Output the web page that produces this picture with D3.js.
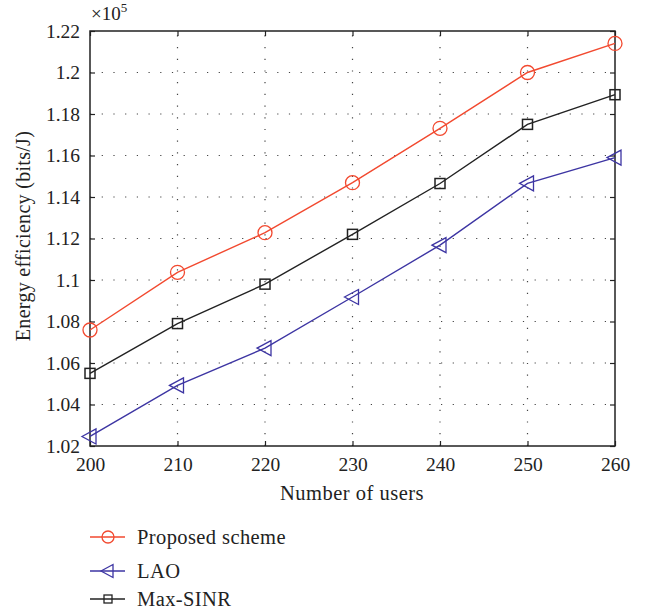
<!DOCTYPE html>
<html><head><meta charset="utf-8">
<script src="https://cdn.jsdelivr.net/npm/d3@7"></script>
<style>body{margin:0;background:#fff}svg{display:block}text{font-family:"Liberation Serif","DejaVu Serif",serif;fill:#222}</style>
</head><body><svg id="c" width="647" height="611"></svg>
<script>
const users = [200, 210, 220, 230, 240, 250, 260];
const proposed = [1.0759, 1.1037, 1.1228, 1.1469, 1.1731, 1.2000, 1.2140];
const lao = [1.0246, 1.0492, 1.0672, 1.0918, 1.1168, 1.1466, 1.1590];
const maxSinr = [1.0550, 1.0790, 1.0980, 1.1220, 1.1465, 1.1750, 1.1893];
const yTicks = [1.02, 1.04, 1.06, 1.08, 1.1, 1.12, 1.14, 1.16, 1.18, 1.2, 1.22];
const xTicks = [200, 210, 220, 230, 240, 250, 260];
const seriesNames = ["Proposed scheme", "LAO", "Max-SINR"];

const svg = d3.select("#c");
const L = 90, R = 615, T = 31, B = 446;
const x = d3.scaleLinear().domain([200, 260]).range([L, R]);
const y = d3.scaleLinear().domain([1.02, 1.22]).range([B, T]);

// grid
const g = svg.append("g");
g.selectAll(".gx").data(xTicks.slice(1, -1)).enter().append("line")
  .attr("x1", d => x(d)).attr("x2", d => x(d)).attr("y1", B).attr("y2", T)
  .attr("stroke", "#444").attr("stroke-width", 1.2).attr("stroke-dasharray", "1.2,10.5");
g.selectAll(".gy").data(yTicks.slice(1, -1)).enter().append("line")
  .attr("x1", L).attr("x2", R).attr("y1", d => y(d)).attr("y2", d => y(d))
  .attr("stroke", "#444").attr("stroke-width", 1.2).attr("stroke-dasharray", "1.2,10.5");

// axes
const xAxB = d3.axisBottom(x).tickValues(xTicks).tickSize(-5).tickPadding(11).tickFormat(d3.format("d"));
const xAxT = d3.axisTop(x).tickValues(xTicks).tickSize(-5).tickFormat("");
const yAxL = d3.axisLeft(y).tickValues(yTicks).tickSize(-5).tickPadding(10).tickFormat(d => String(+d.toFixed(2)));
const yAxR = d3.axisRight(y).tickValues(yTicks).tickSize(-5).tickFormat("");
function style(sel) {
  sel.select(".domain").remove();
  sel.selectAll("line").attr("stroke", "#222").attr("stroke-width", 1.2);
  sel.selectAll("text").attr("font-size", 19.5).attr("fill", "#222")
    .attr("font-family", '"Liberation Serif","DejaVu Serif",serif');
}
svg.append("g").attr("transform", `translate(0,${B})`).call(xAxB).call(style);
svg.append("g").attr("transform", `translate(0,${T})`).call(xAxT).call(style);
svg.append("g").attr("transform", `translate(${L},0)`).call(yAxL).call(style);
svg.append("g").attr("transform", `translate(${R},0)`).call(yAxR).call(style);
svg.append("rect").attr("x", L).attr("y", T).attr("width", R - L).attr("height", B - T)
  .attr("fill", "none").attr("stroke", "#222").attr("stroke-width", 1.5);

// labels
svg.append("text").attr("x", 352).attr("y", 500).attr("text-anchor", "middle").attr("font-size", 20.5).attr("letter-spacing", 0.5).text("Number of users");
svg.append("text").attr("transform", "translate(30,236) rotate(-90)").attr("text-anchor", "middle").attr("font-size", 20).attr("letter-spacing", 0.3).text("Energy efficiency (bits/J)");
const ex = svg.append("text").attr("x", 91).attr("y", 20).attr("font-size", 19);
ex.append("tspan").text("×10");
ex.append("tspan").attr("font-size", 13).attr("dy", -8).text("5");

// series
const colors = ["#f2492f", "#3d35a3", "#222222"];
const data = [proposed, lao, maxSinr];
const line = d3.line().x((d, i) => x(users[i])).y(d => y(d));

function marker(sel, k, cx, cy) {
  if (k === 0) sel.append("circle").attr("cx", cx).attr("cy", cy).attr("r", 7)
    .attr("fill", "none").attr("stroke", colors[k]).attr("stroke-width", 1.3);
  else if (k === 1) sel.append("path").attr("d", `M${cx - 8},${cy} L${cx + 6},${cy - 7.5} L${cx + 6},${cy + 7.5} Z`)
    .attr("fill", "none").attr("stroke", colors[k]).attr("stroke-width", 1.3);
  else sel.append("rect").attr("x", cx - 5).attr("y", cy - 5).attr("width", 10).attr("height", 10)
    .attr("fill", "none").attr("stroke", colors[k]).attr("stroke-width", 1.5);
}
data.forEach((vals, k) => {
  const sg = svg.append("g");
  sg.append("path").attr("d", line(vals)).attr("fill", "none").attr("stroke", colors[k]).attr("stroke-width", 1.4);
  vals.forEach((v, i) => marker(sg, k, x(users[i]), y(v)));
});

// legend
const legY = [537, 571, 599];
seriesNames.forEach((name, k) => {
  const lg = svg.append("g");
  lg.append("line").attr("x1", 90).attr("x2", 125).attr("y1", legY[k]).attr("y2", legY[k])
    .attr("stroke", colors[k]).attr("stroke-width", 1.4);
  if (k === 0) lg.append("circle").attr("cx", 108).attr("cy", legY[k]).attr("r", 6).attr("fill", "none").attr("stroke", colors[k]).attr("stroke-width", 1.3);
  else if (k === 1) lg.append("path").attr("d", `M${101},${legY[k]} L${113},${legY[k] - 6.5} L${113},${legY[k] + 6.5} Z`).attr("fill", "none").attr("stroke", colors[k]).attr("stroke-width", 1.3);
  else lg.append("rect").attr("x", 104).attr("y", legY[k] - 4).attr("width", 8).attr("height", 8).attr("fill", "none").attr("stroke", colors[k]).attr("stroke-width", 1.3);
  lg.append("text").attr("x", 137).attr("y", legY[k] + 7).attr("font-size", 20.5).attr("letter-spacing", 0.4).text(name);
});
</script></body></html>
